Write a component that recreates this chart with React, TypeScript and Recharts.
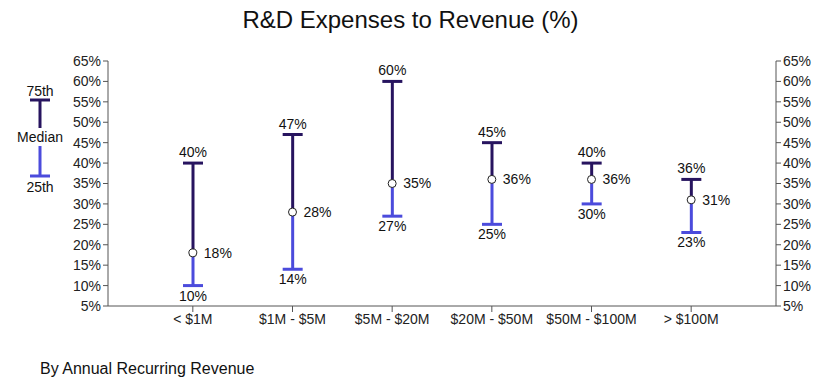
import React from 'react';
import { ComposedChart, Bar, Line, XAxis, YAxis, LabelList } from 'recharts';

const categories = ['< $1M', '$1M - $5M', '$5M - $20M', '$20M - $50M', '$50M - $100M', '> $100M'];
const p75 = [40, 47, 60, 45, 40, 36];
const median = [18, 28, 35, 36, 36, 31];
const p25 = [10, 14, 27, 25, 30, 23];
const yTicks = [5, 10, 15, 20, 25, 30, 35, 40, 45, 50, 55, 60, 65];

const DARK = '#27145f';
const BLUE = '#4b4bdc';
const AXIS = '#555';
const FONT = '"Liberation Sans", Arial, Helvetica, sans-serif';

const data = categories.map((name, i) => ({
  name,
  p75: p75[i],
  median: median[i],
  p25: p25[i],
  upper: [median[i], p75[i]],
  lower: [p25[i], median[i]],
}));

// whisker with a cap at the top (75th) or at the bottom (25th)
const Whisker = (color, capAtTop) => (props) => {
  const { x, y, width, height } = props;
  const cx = x + width / 2;
  const capY = capAtTop ? y : y + height;
  return (
    <g>
      <line x1={cx} x2={cx} y1={y} y2={y + height} stroke={color} strokeWidth={3} />
      <line x1={cx - 10} x2={cx + 10} y1={capY} y2={capY} stroke={color} strokeWidth={3} />
    </g>
  );
};

const pct = (v) => `${v}%`;

function Key() {
  return (
    <svg width={90} height={120} style={{ position: 'absolute', left: 0, top: 80 }}>
      <text x={40} y={16} textAnchor="middle" fontSize={14} fontFamily={FONT} fill="#111">75th</text>
      <line x1={30} x2={50} y1={20} y2={20} stroke={DARK} strokeWidth={3} />
      <line x1={40} x2={40} y1={20} y2={48} stroke={DARK} strokeWidth={3} />
      <text x={40} y={62} textAnchor="middle" fontSize={14} fontFamily={FONT} fill="#111">Median</text>
      <line x1={40} x2={40} y1={66} y2={96} stroke={BLUE} strokeWidth={3} />
      <line x1={30} x2={50} y1={96} y2={96} stroke={BLUE} strokeWidth={3} />
      <text x={40} y={112} textAnchor="middle" fontSize={14} fontFamily={FONT} fill="#111">25th</text>
    </svg>
  );
}

export default function App() {
  const tickStyle = { fontSize: 14, fill: '#222', fontFamily: FONT };
  const labelStyle = { fontSize: 14, fill: '#111', fontFamily: FONT };
  return (
    <div style={{ position: 'absolute', left: 0, top: 0, width: 821, height: 388, background: '#fff', fontFamily: FONT }}>
      <div style={{ position: 'absolute', left: 0, width: 821, top: 6, textAlign: 'center', fontSize: 24, color: '#111' }}>
        R&amp;D Expenses to Revenue (%)
      </div>
      <Key />
      <ComposedChart
        width={821}
        height={388}
        data={data}
        margin={{ top: 61, right: 0, bottom: 52, left: 48 }}
      >
        <XAxis
          xAxisId="a"
          dataKey="name"
          padding={{ left: 35, right: 35 }}
          stroke={AXIS}
          tick={tickStyle}
          tickSize={6}
          height={30}
        />
        <XAxis xAxisId="b" dataKey="name" padding={{ left: 35, right: 35 }} hide />
        <YAxis
          yAxisId="l"
          orientation="left"
          domain={[5, 65]}
          ticks={yTicks}
          tickFormatter={pct}
          stroke={AXIS}
          tick={tickStyle}
          tickSize={5}
          width={60}
          interval={0}
        />
        <YAxis
          yAxisId="r"
          orientation="right"
          domain={[5, 65]}
          ticks={yTicks}
          tickFormatter={pct}
          stroke={AXIS}
          tick={tickStyle}
          tickSize={5}
          width={45}
          interval={0}
        />
        <Bar xAxisId="a" yAxisId="l" dataKey="upper" barSize={20} shape={Whisker(DARK, true)} isAnimationActive={false}>
          <LabelList dataKey="p75" position="top" formatter={pct} offset={6} style={labelStyle} />
        </Bar>
        <Bar xAxisId="b" yAxisId="l" dataKey="lower" barSize={20} shape={Whisker(BLUE, false)} isAnimationActive={false}>
          <LabelList dataKey="p25" position="bottom" formatter={pct} offset={5} style={labelStyle} />
        </Bar>
        {/* invisible series so the right axis gets its ticks */}
        <Line xAxisId="a" yAxisId="r" dataKey="median" stroke="none" dot={false} activeDot={false} isAnimationActive={false} />
        <Line
          xAxisId="a"
          yAxisId="l"
          dataKey="median"
          stroke="none"
          dot={{ r: 4, fill: '#fff', stroke: '#222', strokeWidth: 1 }}
          isAnimationActive={false}
        >
          <LabelList dataKey="median" position="right" formatter={pct} offset={11} style={labelStyle} />
        </Line>
      </ComposedChart>
      <div style={{ position: 'absolute', left: 40, top: 360, fontSize: 16, color: '#111' }}>
        By Annual Recurring Revenue
      </div>
    </div>
  );
}
